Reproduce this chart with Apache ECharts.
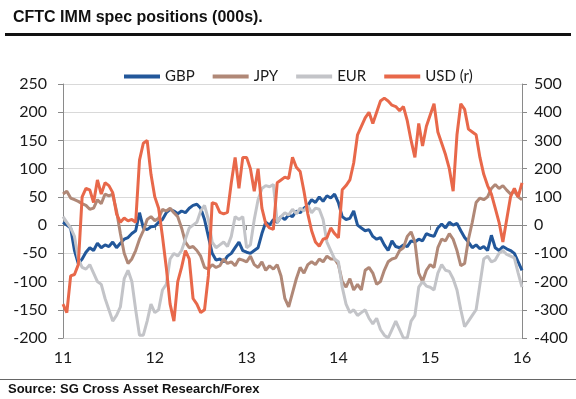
<!DOCTYPE html>
<html>
<head>
<meta charset="utf-8">
<script src="https://cdn.jsdelivr.net/npm/echarts@6/dist/echarts.min.js"></script>
<style>
html,body{margin:0;padding:0;background:#fff}
#main{width:576px;height:399px}
</style>
</head>
<body>
<div id="main"></div>
<script>
// semi-monthly readings, Jan 2011 .. Jan 2016 (121 points)
var yearLabels = ['11','12','13','14','15','16'];
var gbp = [5,0,-5,-45,-68,-60,-48,-40,-45,-32,-40,-35,-38,-30,-40,-32,-25,-22,-15,-10,22,-5,-8,-3,-2,
  5,10,22,28,25,20,25,22,30,35,37,30,10,-20,-50,-62,-60,-65,-55,-50,-40,-30,-45,-48,
  -50,-45,-40,-15,5,0,10,5,15,10,18,15,25,22,30,35,45,40,50,42,52,48,55,40,
  15,10,12,25,0,-5,-10,-8,-20,-25,-22,-35,-45,-28,-38,-40,-35,-38,-28,-30,-25,-28,-15,-18,
  -20,-5,2,-5,5,0,3,-10,-22,-30,-40,-35,-42,-38,-45,-18,-40,-45,-38,-42,-45,-50,-65,-80];
var jpy = [55,60,48,45,42,38,35,28,30,45,38,55,52,55,25,-15,-50,-68,-60,-45,-25,-10,10,15,8,
  12,28,25,30,22,15,-5,-30,-40,-38,-45,-55,-75,-78,-70,-75,-72,-60,-68,-65,-72,-60,-62,-65,
  -55,-70,-75,-65,-80,-72,-78,-70,-90,-130,-145,-120,-95,-75,-85,-70,-65,-70,-60,-65,-55,-60,-60,-70,
  -100,-110,-95,-115,-105,-115,-80,-75,-85,-105,-100,-80,-65,-60,-58,-45,-40,-20,-12,-30,-85,-100,-80,-70,
  -75,-40,-25,-28,-15,-25,-45,-72,-68,-25,5,40,48,45,50,65,72,65,70,62,55,60,50,45];
var eur = [15,5,-5,-20,-60,-75,-78,-70,-85,-100,-105,-130,-150,-170,-160,-145,-95,-80,-100,-150,-195,-195,-170,-140,-155,
  -150,-115,-105,-60,-50,-55,-45,-25,-5,0,5,25,35,10,-30,-40,-35,-30,-38,-20,15,10,15,-40,
  -35,10,45,65,70,68,72,5,15,22,18,28,20,30,25,35,22,30,28,10,-30,-45,-60,-65,
  -110,-140,-155,-150,-160,-155,-150,-165,-175,-165,-185,-195,-200,-185,-170,-185,-200,-200,-170,-160,-110,-100,-108,-110,
  -115,-85,-70,-80,-82,-95,-115,-150,-180,-170,-160,-150,-105,-60,-55,-65,-62,-50,-45,-52,-55,-58,-85,-110];
var usd = [-280,-310,-180,-175,-140,100,130,125,80,160,110,150,140,115,40,10,25,15,20,10,230,290,300,180,100,
  60,-40,-150,-280,-340,-200,-150,-90,-120,-260,-280,-310,-300,-180,80,75,45,40,45,150,240,130,240,240,
  200,120,200,60,5,-10,-15,150,160,170,165,240,205,190,120,40,-20,-60,-75,-50,-45,-10,-30,-45,
  125,140,160,220,320,350,380,400,360,400,440,450,440,425,420,405,420,370,300,240,360,280,350,390,
  430,330,290,250,200,120,320,430,410,340,330,320,240,180,140,110,60,10,-60,20,100,130,100,150];

var periods = [];
for (var i = 0; i < gbp.length; i++) periods.push(i);

var txt = '#1a1a1a';
var lab = {fontFamily: 'Lato', fontSize: 16, color: txt};

var myChart = echarts.init(document.getElementById('main'));
myChart.setOption({
  animation: false,
  backgroundColor: '#fff',
  title: {
    text: 'CFTC IMM spec positions (000s).',
    left: 8, top: 5,
    textStyle: {fontFamily: 'Liberation Sans', fontWeight: 'bold', fontSize: 16, color: '#111'}
  },
  graphic: [
    {type: 'rect', shape: {x: 5, y: 33, width: 566, height: 3}, style: {fill: '#111'}},
    {type: 'rect', shape: {x: 0, y: 379, width: 576, height: 1}, style: {fill: '#666'}},
    {type: 'text', left: 8, top: 383,
      style: {text: 'Source: SG Cross Asset Research/Forex', fill: '#111',
        font: 'bold 13px "Liberation Sans"'}}
  ],
  legend: {
    top: 64, left: 119,
    icon: 'rect', itemWidth: 36, itemHeight: 4, itemGap: 18,
    textStyle: {fontFamily: 'Lato', fontSize: 15, color: txt},
    data: ['GBP', 'JPY', 'EUR', 'USD (r)']
  },
  grid: {left: 63, right: 54, top: 84, bottom: 61},
  xAxis: {
    type: 'category',
    data: periods,
    boundaryGap: false,
    axisLine: {lineStyle: {color: '#8a8a8a', width: 1}},
    axisTick: {show: true, length: 5, interval: function (i) { return i % 24 === 0; },
      lineStyle: {color: '#8a8a8a'}},
    axisLabel: Object.assign({margin: 12, interval: function (i) { return i % 24 === 0; },
      formatter: function (v, i) { return yearLabels[i / 24]; }}, lab),
    splitLine: {show: false}
  },
  yAxis: [
    {
      type: 'value', min: -200, max: 250, interval: 50, position: 'left',
      axisLine: {show: true, lineStyle: {color: '#8a8a8a'}},
      axisTick: {show: true, length: 5, lineStyle: {color: '#8a8a8a'}},
      axisLabel: Object.assign({margin: 16}, lab),
      splitLine: {lineStyle: {color: '#d9d9d9', width: 1}}
    },
    {
      type: 'value', min: -400, max: 500, interval: 100, position: 'right',
      axisLine: {show: true, lineStyle: {color: '#8a8a8a'}},
      axisTick: {show: true, length: 5, lineStyle: {color: '#8a8a8a'}},
      axisLabel: Object.assign({margin: 12}, lab),
      splitLine: {show: false}
    }
  ],
  series: [
    {name: 'GBP', type: 'line', data: gbp, symbol: 'none', color: '#22579a', lineStyle: {width: 3}},
    {name: 'JPY', type: 'line', data: jpy, symbol: 'none', color: '#b08877', lineStyle: {width: 3}},
    {name: 'EUR', type: 'line', data: eur, symbol: 'none', color: '#c3c4c8', lineStyle: {width: 3}},
    {name: 'USD (r)', type: 'line', yAxisIndex: 1, data: usd, symbol: 'none', color: '#e8684a', lineStyle: {width: 3}}
  ]
});
</script>
</body>
</html>
